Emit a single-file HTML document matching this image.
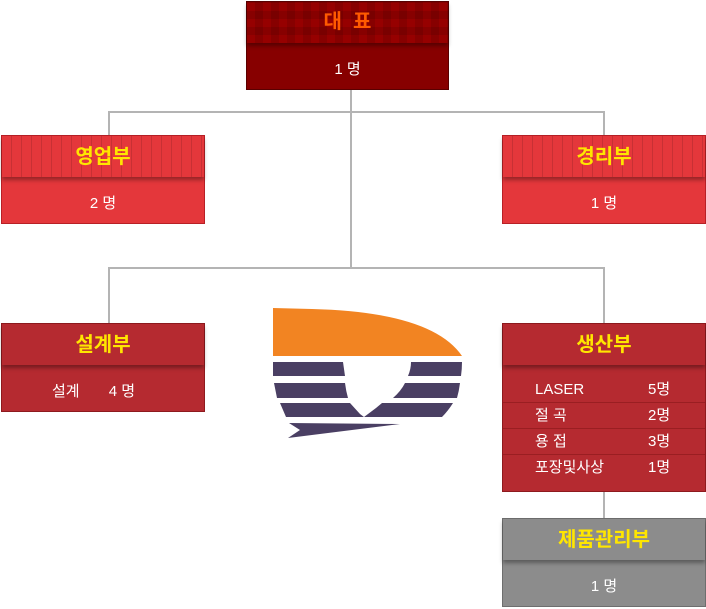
<!DOCTYPE html>
<html><head><meta charset="utf-8"><style>
body{margin:0;width:706px;height:609px;background:#fff;position:relative;overflow:hidden;font-family:"Liberation Sans","Noto Sans CJK KR",sans-serif}
.b{position:absolute;box-sizing:border-box}
.h{position:absolute;left:0;right:0;top:0;text-align:center;color:#ffe600;font-size:20px;font-weight:bold;box-shadow:0 3px 4px rgba(0,0,0,.35)}
.t{position:absolute;left:0;right:0;text-align:center;color:#fff;font-size:15px}
.l{position:absolute;background:#b4b4b4}
.row{position:absolute;left:0;right:0;height:25px;border-bottom:1px solid #9a1e22;color:#fff;font-size:15px;line-height:25px}
.row span{position:absolute;left:32px}.row b{position:absolute;left:145px;font-weight:normal}
</style></head><body>
<div class="l" style="left:350px;top:89px;width:2px;height:180px"></div>
<div class="l" style="left:108px;top:111px;width:497px;height:2px"></div>
<div class="l" style="left:108px;top:111px;width:2px;height:24px"></div>
<div class="l" style="left:603px;top:111px;width:2px;height:24px"></div>
<div class="l" style="left:108px;top:267px;width:497px;height:2px"></div>
<div class="l" style="left:108px;top:267px;width:2px;height:56px"></div>
<div class="l" style="left:603px;top:267px;width:2px;height:56px"></div>
<div class="l" style="left:603px;top:490px;width:2px;height:28px"></div>

<div class="b" style="left:246px;top:1px;width:203px;height:89px;background:#870000;border:1px solid #5a0000">
<div class="h" style="height:41px;line-height:41px;color:#ff5a00;background:#960000;background-image:repeating-linear-gradient(90deg,transparent 0 8px,rgba(0,0,0,.1) 8px 16px),repeating-linear-gradient(0deg,transparent 0 8px,rgba(0,0,0,.1) 8px 16px)">대 &nbsp;표</div>
<div class="t" style="top:56px">1 명</div></div>

<div class="b" style="left:1px;top:135px;width:204px;height:89px;background:#e4373b;border:1px solid #b82026">
<div class="h" style="height:41px;line-height:43px;background:#e4373b repeating-linear-gradient(90deg,transparent 0 9px,rgba(0,0,0,.12) 9px 10px)">영업부</div>
<div class="t" style="top:56px">2 명</div></div>

<div class="b" style="left:502px;top:135px;width:204px;height:89px;background:#e4373b;border:1px solid #b82026">
<div class="h" style="height:41px;line-height:43px;background:#e4373b repeating-linear-gradient(90deg,transparent 0 9px,rgba(0,0,0,.12) 9px 10px)">경리부</div>
<div class="t" style="top:56px">1 명</div></div>

<div class="b" style="left:1px;top:323px;width:204px;height:89px;background:#b52a30;border:1px solid #8e1a1e">
<div class="h" style="height:41px;line-height:43px;background:#b52a30">설계부</div>
<div class="t" style="top:56px;text-align:left;left:50px">설계 &nbsp; &nbsp; &nbsp; 4 명</div></div>

<div class="b" style="left:502px;top:323px;width:204px;height:169px;background:#b52a30;border:1px solid #8e1a1e">
<div class="h" style="height:41px;line-height:43px;background:#b52a30">생산부</div>
<div class="row" style="top:53px"><span>LASER</span><b>5명</b></div>
<div class="row" style="top:79px"><span>절 곡</span><b>2명</b></div>
<div class="row" style="top:105px"><span>용 접</span><b>3명</b></div>
<div class="row" style="top:131px;border:0"><span>포장및사상</span><b>1명</b></div></div>

<div class="b" style="left:502px;top:518px;width:204px;height:89px;background:#8c8c8c;border:1px solid #6e6e6e">
<div class="h" style="height:41px;line-height:43px;background:#8c8c8c repeating-linear-gradient(90deg,transparent 0 9px,rgba(0,0,0,.1) 9px 10px),repeating-linear-gradient(0deg,transparent 0 9px,rgba(0,0,0,.1) 9px 10px)">제품관리부</div>
<div class="t" style="top:56px">1 명</div></div>

<svg style="position:absolute;left:272px;top:308px" width="192" height="132" viewBox="0 0 192 132">
<path d="M1,0 L40,1 Q160,4 190,48 L1,48 Z" fill="#f28422"/>
<path d="M1,54 H71 Q72,61 73,68 H1 Z M139,54 H190 Q190,61 189,68 H136 Q139,61 139,54 Z" fill="#4a3f63"/>
<path d="M2,75 H73 Q74,83 76,90 H5 Z M133,75 H188 Q187,83 185,90 H121 Q129,83 133,75 Z" fill="#4a3f63"/>
<path d="M8,95 H78 L88,106 L92,109 L104,100 L110,95 H181 Q176,103 170,109 H14 Z" fill="#4a3f63"/>
<path d="M17,115 L128,116 Q80,122 16,130 L28,122 Z" fill="#4a3f63"/>
</svg>
</body></html>
